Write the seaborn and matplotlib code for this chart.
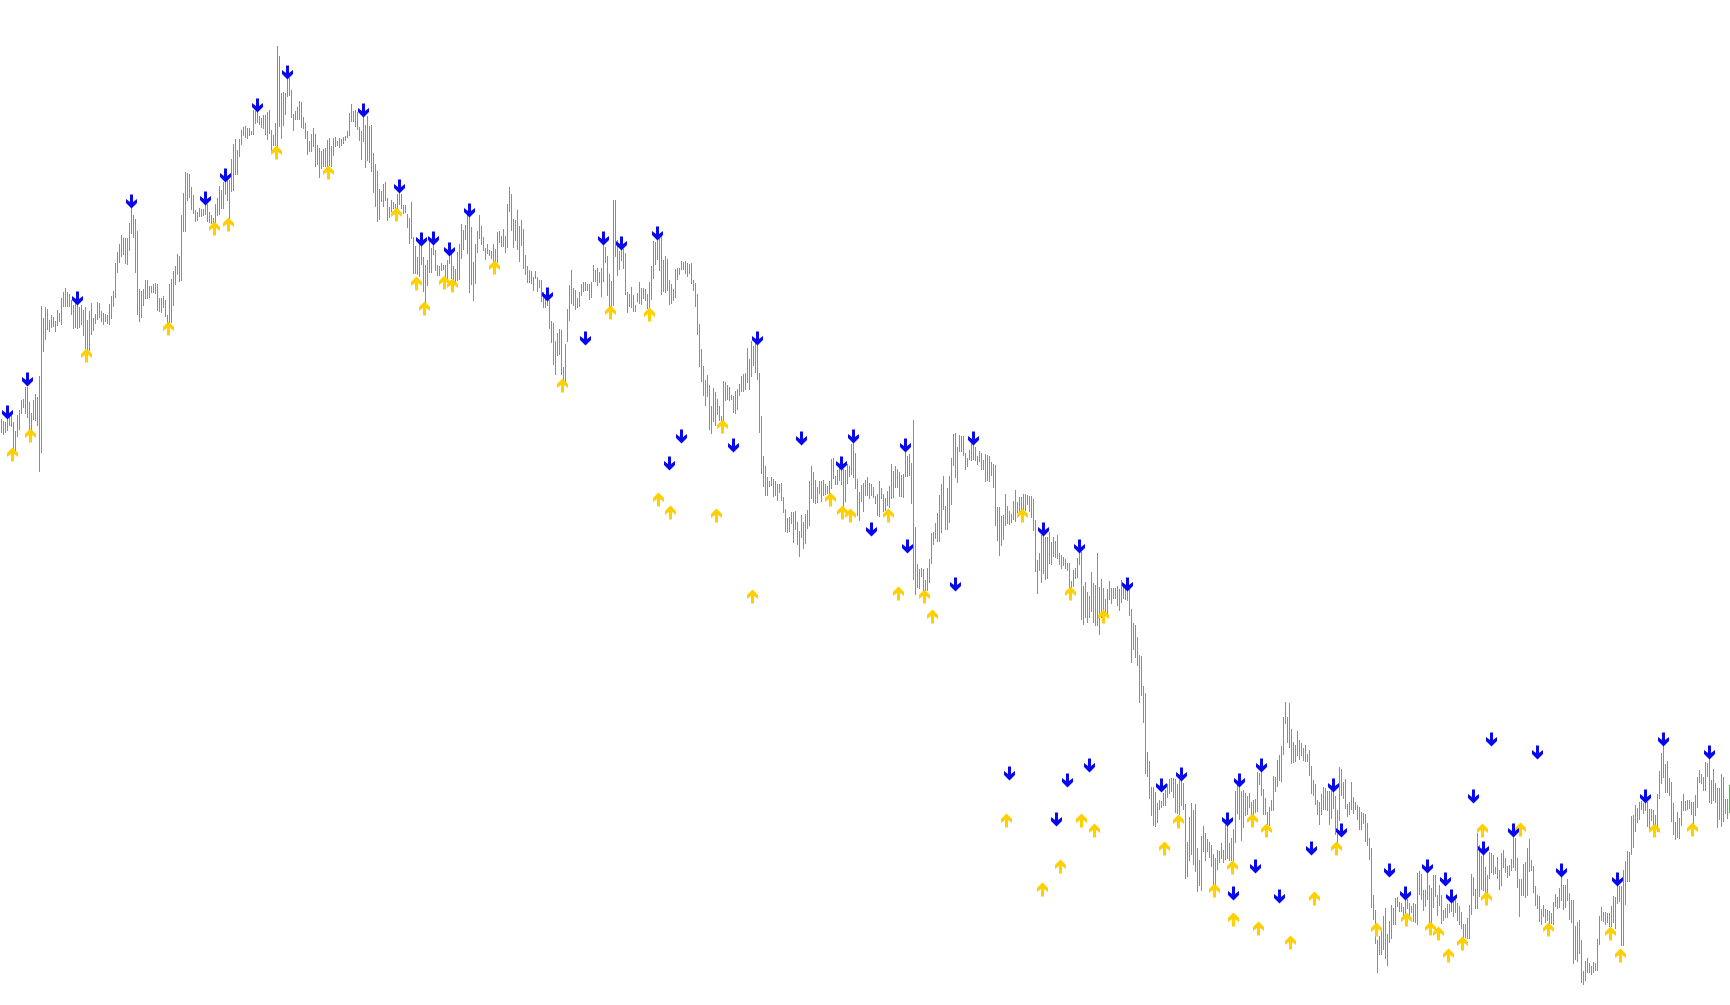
import numpy as np
import pandas as pd
import matplotlib
matplotlib.use("Agg")
import matplotlib.pyplot as plt
from matplotlib.path import Path
import seaborn as sns

# bar ranges as (high, low), y axis runs downwards
bars_a = [(419,432),(421,434),(422,432),(419,430),(417,425),(415,426),(422,448),(431,450),(415,436),(410,429),(400,413),(399,407),
(387,413),(387,417),(402,429),(413,429),(400,419),(394,420),(397,425),(376,471),(306,452),(318,351),(307,339),(309,329),(320,331),
(315,327),(317,326),(321,331),(310,325),(313,321),(298,324),(292,306),(288,306),(292,306),(294,306),(300,314),(305,328),(303,327),
(305,328),(307,327),(305,324),(310,335),(307,348),(320,350),(311,350),(303,334),(318,330),(314,323),(302,319),(303,317),(311,321),
(313,324),(314,321),(315,323),(304,324),(296,318),(291,306),(263,297),(252,272),(244,262),(235,256),(238,254),(238,263),(238,264),
(223,250),(207,233),(215,237),(219,272),(231,314),(289,321),(291,317),(289,305),(280,298),(280,298),(286,297),(286,292),(284,292),
(283,293),(284,310),(298,311),(298,312),(296,307),(300,316),(315,322),(284,322),(279,322),(271,305),(266,284),(254,274),(256,281),
(215,280),(193,231),(172,231),(173,200),(174,197),(187,209),(195,213),(210,221),(212,220),(208,216),(209,216),(209,215),(205,214),
(204,221),(212,222),(215,223),(218,227),(204,223)]
bars_b = [(198,215),(186,214),(190,208),(182,208),(180,194),(180,200),(180,218),(159,191),(144,190),(139,174),(150,174),(139,156),
(130,144),(127,135),(126,137),(128,138),(128,135),(131,134),(110,134),(111,123),(110,122),(116,124),(118,127),(115,128),(115,134),
(112,139),(110,133),(130,150),(135,145),(123,145),(46,146),(56,126),(93,138),(92,125),(93,114),(77,96),(78,95),(90,117),(114,130),
(111,119),(107,119),(101,119),(102,127),(117,128),(123,138),(131,154),(141,151),(134,151),(128,146),(134,166),(145,164),(148,177),
(151,168),(149,166),(148,166),(140,166),(138,165),(146,166),(138,155),(137,146),(141,145),(138,147),(139,145),(137,143),(136,140),
(131,137),(113,135),(104,121),(111,121),(110,126),(112,129),(127,140),(131,159),(116,141),(125,167),(116,160),(126,162),(125,171),
(153,192),(164,206),(171,221),(189,219),(191,201),(184,206),(182,200),(198,220),(207,217),(200,211),(202,208),(204,210),(194,210),
(192,204),(194,208),(205,213),(205,212),(214,227),(218,243),(202,238),(237,273),(246,273),(257,274),(243,276),(245,264),(257,291),
(265,303),(260,285),(239,272),(248,272)]
bars_c = [(244,254),(250,270),(265,275),(266,275),(263,270),(265,269),(265,276),(260,278),(250,263),(254,278),(266,280),(269,283),
(252,280),(244,279),(224,258),(230,249),(225,239),(215,253),(215,292),(227,284),(262,300),(244,283),(231,252),(215,238),(226,244),
(237,250),(248,259),(244,253),(250,255),(251,258),(244,261),(249,262),(232,262),(231,242),(236,246),(229,246),(236,252),(204,247),
(187,211),(194,230),(219,247),(220,240),(210,249),(226,261),(220,245),(229,268),(255,274),(266,282),(270,282),(271,283),(277,290),
(271,278),(277,291),(280,287),(280,301),(292,307),(295,307),(295,305),(300,328),(321,342),(323,364),(341,374),(333,355),(329,354),
(330,374),(367,380),(344,383),(309,341),(285,320),(270,303),(288,305),(290,309),(298,307),(292,306),(284,295),(282,291),(282,290),
(284,290),(284,299),(282,297),(265,281),(270,281),(268,285),(272,282),(268,296),(244,281),(247,262),(256,295),(274,306),(281,306),
(200,305),(200,256),(240,275),(251,269),(245,260),(249,268),(253,294),(292,312),(294,306),(287,307),(295,311),(305,311),(293,301),
(282,303),(288,304),(288,298),(289,300),(294,308)]
bars_d = [(282,308),(266,299),(241,278),(242,264),(238,259),(238,270),(235,294),(260,291),(256,292),(259,290),(280,304),(284,303),
(289,300),(269,297),(268,279),(268,274),(261,269),(262,269),(261,273),(263,276),(264,273),(263,283),(280,290),(283,306),(294,334),
(324,366),(349,381),(366,395),(380,405),(375,396),(385,429),(406,433),(388,421),(392,425),(399,414),(406,420),(416,426),(381,420),
(382,400),(385,399),(387,400),(395,399),(396,412),(391,413),(389,409),(384,395),(376,391),(374,391),(373,389),(348,382),(359,389),
(341,376),(346,365),(343,372),(342,379),(373,432),(416,473),(456,486),(466,495),(477,495),(481,486),(477,485),(479,496),(481,495),
(484,500),(484,492),(483,500),(497,512),(509,531),(518,532),(517,531),(512,523),(512,542),(511,529),(522,544),(531,556),(515,537),
(522,548),(514,543),(510,528),(481,525),(466,498),(472,502),(480,503),(487,502),(481,493),(481,501),(480,495),(484,494),(486,493),
(481,495),(459,488),(458,478),(476,484),(470,484),(468,480),(465,484),(469,506),(470,501),(464,483),(466,476),(444,474),(435,477),
(453,488),(479,515),(492,520),(485,501),(483,511)]
bars_e = [(480,495),(477,495),(483,498),(484,495),(487,497),(496,503),(494,515),(481,516),(488,498),(494,511),(498,510),(491,505),
(486,507),(464,498),(471,497),(466,487),(469,487),(472,496),(475,496),(474,497),(450,476),(456,476),(454,475),(463,503),(420,579),
(527,594),(564,587),(569,588),(568,576),(569,590),(580,590),(568,590),(559,582),(533,563),(532,544),(523,538),(513,541),(495,541),
(484,532),(476,509),(506,529),(488,529),(476,522),(458,504),(434,465),(433,477),(447,482),(435,451),(436,451),(436,455),(453,469),
(458,466),(450,459),(442,460),(442,459),(447,460),(456,464),(451,461),(453,469),(460,469),(454,481),(455,480),(456,481),(462,475),
(464,487),(465,525),(507,540),(507,555),(516,545),(515,539),(494,525),(506,523),(511,524),(514,522),(501,519),(490,521),(502,512),
(497,511),(497,516),(494,510),(494,510),(495,504),(496,511),(496,517),(499,530),(520,571),(560,593),(553,570),(535,582),(535,573),
(537,579),(537,578),(532,563),(542,564),(537,556),(541,557),(535,558),(553,564),(555,568),(557,565),(559,568),(563,570),(563,587),
(581,590),(570,586),(568,578),(558,577),(553,564)]
bars_f = [(552,619),(586,624),(582,617),(592,622),(596,617),(572,611),(583,622),(585,625),(553,625),(587,634),(579,617),(588,611),
(599,611),(589,613),(581,599),(588,603),(588,598),(588,598),(586,605),(589,610),(580,602),(584,598),(586,599),(586,600),(589,615),
(609,662),(623,649),(625,657),(637,665),(655,702),(656,695),(686,722),(693,773),(752,776),(761,798),(787,815),(787,825),(792,826),
(803,822),(800,809),(801,807),(793,805),(790,805),(784,797),(779,793),(778,791),(778,797),(779,812),(784,813),(780,814),(780,805),
(783,809),(804,878),(842,876),(817,860),(803,854),(810,864),(804,871),(848,891),(860,885),(836,890),(826,851),(833,860),(839,851),
(842,857),(845,866),(854,884),(858,884),(850,869),(851,862),(843,858),(850,862),(825,859),(825,858),(843,860),(838,860),(829,860),
(791,842),(785,813),(785,819),(791,840),(790,827),(793,815),(796,814),(793,807),(802,814),(800,815),(799,812),(772,811),(773,784),
(770,795),(789,814),(798,814),(812,825),(807,825),(800,810),(776,810),(777,791),(760,786),(755,780),(746,781),(717,754),(702,723),
(717,742),(703,747),(729,763),(742,762),(745,761)]
bars_g = [(731,755),(740,759),(743,755),(748,760),(745,761),(754,761),(750,775),(766,793),(780,795),(784,804),(800,814),(802,824),
(794,814),(787,809),(788,809),(791,810),(791,824),(791,818),(784,808),(796,834),(810,848),(767,820),(769,795),(782,798),(779,808),
(804,816),(802,814),(782,809),(797,813),(802,809),(805,819),(807,829),(812,829),(813,823),(814,841),(823,845),(838,859),(848,907),
(895,919),(910,943),(940,972),(936,954),(931,954),(916,949),(908,958),(934,965),(921,942),(905,938),(908,924),(898,924),(897,906),
(902,911),(903,911),(907,915),(899,914),(899,908),(903,915),(906,912),(903,921),(904,922),(873,924),(871,894),(874,899),(890,910),
(890,906),(871,899),(885,922),(888,922),(875,907),(875,896),(895,915),(885,905),(895,923),(910,920),(908,917),(904,917),(904,912),
(902,911),(901,916),(899,912),(903,920),(906,924),(912,928),(924,937),(924,937),(918,938),(905,938),(874,914),(877,895),(889,908),
(833,908),(845,896),(856,889),(855,890),(867,892),(875,892),(852,878),(853,872),(855,874),(867,873),(857,878),(870,889),(853,885),
(850,867),(858,872),(866,877),(865,875),(859,870)]
bars_h = [(837,867),(838,870),(858,887),(879,916),(879,895),(864,895),(862,897),(848,895),(839,871),(860,870),(866,892),(886,905),
(895,908),(896,921),(909,924),(905,916),(909,922),(910,920),(911,924),(913,923),(902,924),(894,906),(897,908),(888,907),(876,900),
(885,909),(885,907),(879,900),(893,919),(900,922),(900,963),(926,959),(922,961),(920,953),(940,982),(971,984),(961,980),(958,972),
(963,972),(966,974),(962,972),(963,970),(939,970),(916,944),(907,920),(912,921),(912,924),(913,922),(913,926),(906,926),(896,922),
(897,928),(885,903),(886,901),(886,945),(870,945),(861,904),(851,881),(852,881),(816,854),(815,847),(805,831),(808,822),(802,819),
(801,809),(803,813),(801,810),(802,826),(809,828),(809,820),(810,825),(815,826),(794,831),(771,798),(753,783),(746,777),(764,792),
(761,792),(778,795),(782,821),(803,834),(822,839),(812,837),(818,838),(801,825),(794,810),(801,810),(800,809),(800,808),(802,814),
(802,823),(795,815),(777,807),(770,782),(774,783),(777,790),(762,790),(763,776),(759,802),(780,803),(769,800),(783,802),(788,827),
(788,819),(774,826),(777,821),(799,813),(799,818),(785,812)]

# signal arrows
down_x = [7,27,77,131,205,225,257,287,363,399,421,433,449,469,547,585,603,621,657,757,681,669,733,801,841,853,
          871,905,907,955,973,1043,1079,1009,1067,1056,1089,1127,1161,1181,1227,1233,1239,1255,1261,1279,
          1311,1333,1341,1389,1405,1427,1445,1451,1483,1473,1491,1513,1537,1561,1617,1645,1663,1709]
down_y = [412,379,298,201,198,175,105,72,110,186,239,238,249,210,294,338,238,243,233,338,436,463,445,438,463,436,
          529,445,546,584,438,529,546,773,780,819,765,584,785,774,819,893,780,866,765,896,
          848,785,830,870,893,866,879,896,848,796,739,830,752,870,879,796,739,752]
up_x = [12,30,86,168,214,228,276,328,396,416,424,444,452,494,562,610,649,658,670,716,722,752,830,842,850,
        888,898,924,932,1022,1070,1103,1006,1042,1060,1081,1094,1164,1178,1214,1232,1252,1266,
        1233,1258,1290,1314,1336,1376,1406,1430,1438,1448,1462,1482,1486,1520,1548,1610,1620,1654,1692]
up_y = [454,435,355,328,228,224,152,172,214,283,308,282,285,267,385,312,314,499,512,515,426,596,499,512,515,
        515,593,596,616,515,593,616,820,889,866,820,830,848,821,890,867,820,830,
        919,928,942,898,848,929,919,928,933,955,943,830,898,829,929,933,955,830,829]

BAR_COLOR = "#00ee00"
DOWN_COLOR = "#0808ee"
UP_COLOR = "#ffd000"


def arrow_marker(direction):
    # chevron arrow in pixels, y up; direction -1 flips it to point down
    verts = [(-1.5, -7), (1.5, -7), (1.5, 0.5), (5.5, -2.5), (5.5, 1.5), (0, 7),
             (-5.5, 1.5), (-5.5, -2.5), (-1.5, 0.5), (-1.5, -7)]
    verts = [(vx, vy * direction) for vx, vy in verts]
    return Path(verts, closed=True)


sns.set_style("white")
all_bars = bars_a + bars_b + bars_c + bars_d + bars_e + bars_f + bars_g + bars_h

# bars sit 2 px apart, the quarter keeps them from snapping one pixel over
bar_x = np.arange(len(all_bars)) * 2 + 1.25
rows = []
for bx, (high, low) in zip(bar_x, all_bars):
    rows.append({"bar": bx, "price": high})
    rows.append({"bar": bx, "price": low})
df = pd.DataFrame(rows)

fig = plt.figure(figsize=(17.3, 10.05), dpi=100)
ax = fig.add_axes([0, 0, 1, 1])

sns.lineplot(data=df, x="bar", y="price", units="bar", estimator=None, color=BAR_COLOR,
             linewidth=0.72, antialiased=False, solid_capstyle="butt", legend=False, ax=ax, zorder=1)

arrow_size = (14 * 72 / 100) ** 2
sns.scatterplot(x=np.array(down_x) - 0.5, y=down_y, marker=arrow_marker(-1), s=arrow_size, color=DOWN_COLOR,
                linewidth=0, antialiased=False, ax=ax, zorder=3)
sns.scatterplot(x=np.array(up_x) - 0.5, y=up_y, marker=arrow_marker(1), s=arrow_size, color=UP_COLOR,
                linewidth=0, antialiased=False, ax=ax, zorder=2)

ax.set_xlim(0, 1730)
ax.set_ylim(1005, 0)
ax.set_axis_off()
fig.savefig("out.png", dpi=100, facecolor="white")
